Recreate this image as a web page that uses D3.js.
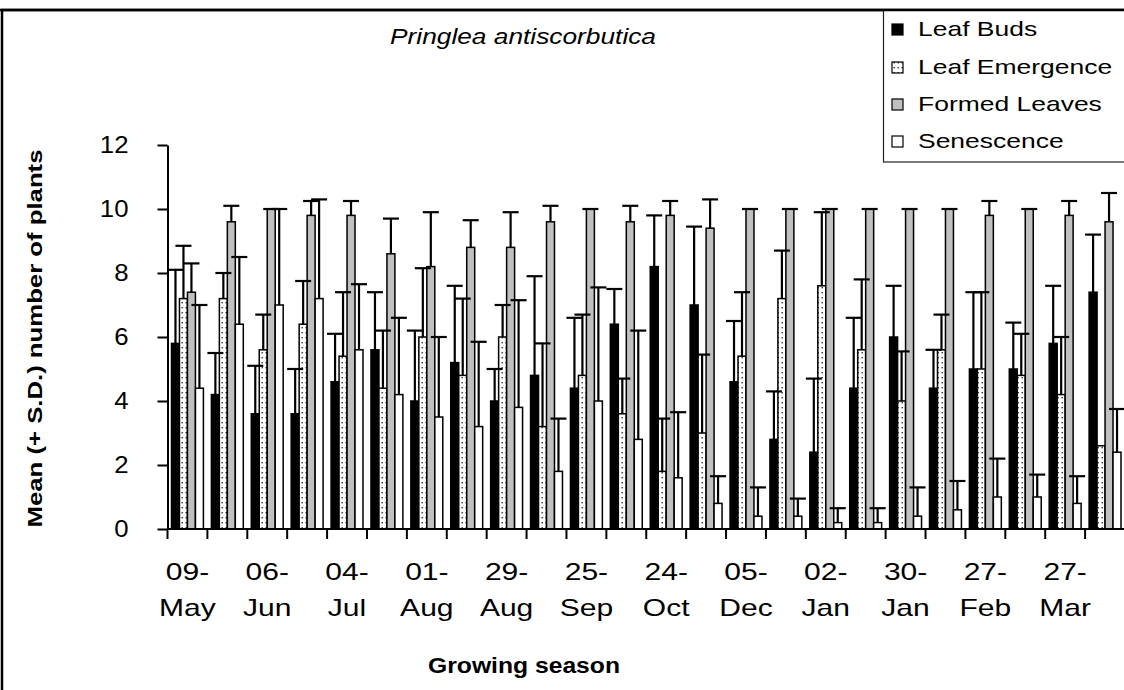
<!DOCTYPE html>
<html><head><meta charset="utf-8">
<script src="https://cdn.jsdelivr.net/npm/d3@7/dist/d3.min.js"></script>
<style>body{margin:0;background:#fff}svg{display:block;font-family:"Liberation Sans",Arial,sans-serif}</style>
</head><body><svg id="c" width="1124" height="690"></svg>
<script>
// ---- data ----
const groups = d3.range(24);           // 24 sampling dates, every other one labelled
const dateLabels = ["09-May","06-Jun","04-Jul","01-Aug","29-Aug","25-Sep","24-Oct","05-Dec","02-Jan","30-Jan","27-Feb","27-Mar"];
const seriesNames = ["Leaf Buds","Leaf Emergence","Formed Leaves","Senescence"];
const yTicks = [0,2,4,6,8,10,12];

const leafBuds      = [5.8,4.2,3.6,3.6,4.6,5.6,4.0,5.2,4.0,4.8,4.4,6.4,8.2,7.0,4.6,2.8,2.4,4.4,6.0,4.4,5.0,5.0,5.8,7.4];
const leafBudsSD    = [2.3,1.3,1.5,1.4,1.5,1.8,2.2,2.4,1.0,3.1,2.2,1.1,1.6,2.45,1.9,1.5,2.3,2.2,1.6,1.2,2.4,1.45,1.8,1.8];
const leafEmerg     = [7.2,7.2,5.6,6.4,5.4,4.4,6.0,4.8,6.0,3.2,4.8,3.6,1.8,3.0,5.4,7.2,7.6,5.6,4.0,5.6,5.0,4.8,4.2,2.6];
const leafEmergSD   = [1.65,0.8,1.1,1.35,2.0,1.8,2.15,2.4,1.0,2.6,1.9,1.1,1.65,2.45,2.0,1.5,2.3,2.2,1.55,1.1,2.4,1.3,1.8,null];
const formedLeaves  = [7.4,9.6,10,9.8,9.8,8.6,8.2,8.8,8.8,9.6,10,9.6,9.8,9.4,10,10,10,10,10,10,9.8,10,9.8,9.6];
const formedSD      = [0.9,0.5,0,0.45,0.45,1.1,1.7,0.85,1.1,0.5,0,0.5,0.45,0.9,0,0,0,0,0,0,0.45,0,0.45,0.9];
const senescence    = [4.4,6.4,7.0,7.2,5.6,4.2,3.5,3.2,3.8,1.8,4.0,2.8,1.6,0.8,0.4,0.4,0.2,0.2,0.4,0.6,1.0,1.0,0.8,2.4];
const senescenceSD  = [2.6,2.1,3.0,3.1,2.05,2.4,2.5,2.65,3.35,1.65,3.55,3.4,2.05,0.85,0.9,0.55,0.45,0.45,0.9,0.9,1.2,0.7,0.85,1.35];

const seriesMeans = [leafBuds, leafEmerg, formedLeaves, senescence];
const seriesSDs   = [leafBudsSD, leafEmergSD, formedSD, senescenceSD];
const fills = ["#000000","url(#dots)","#c0c0c0","#ffffff"];

// ---- chart ----
const svg = d3.select("#c");
const defs = svg.append("defs");
const pat = defs.append("pattern").attr("id","dots").attr("patternUnits","userSpaceOnUse")
  .attr("width",4).attr("height",5);
pat.append("rect").attr("width",4).attr("height",5).attr("fill","#fff");
pat.append("rect").attr("x",1.5).attr("y",2).attr("width",1.4).attr("height",1.4).attr("fill","#333");

function stretch(sel,k){ sel.each(function(){ const L=this.getComputedTextLength(); this.setAttribute("textLength",L*k); this.setAttribute("lengthAdjust","spacingAndGlyphs"); }); }
function fit(sel,w){ sel.attr("textLength",w).attr("lengthAdjust","spacingAndGlyphs"); }

// outer frame
svg.append("rect").attr("x",2).attr("y",10).attr("width",1300).attr("height",900)
  .attr("fill","none").attr("stroke","#000").attr("stroke-width",2.5);

const x0 = d3.scaleBand().domain(groups).range([167.5,1125]).paddingInner(0).paddingOuter(0);
const x1 = d3.scaleBand().domain(seriesNames).range([0,x0.bandwidth()]).paddingInner(0).paddingOuter(0.5);
const y = d3.scaleLinear().domain([0,12]).range([529,145]);
const bw = x1.bandwidth();

// bars
seriesNames.forEach((s,si)=>{
  svg.append("g").selectAll("rect").data(groups).join("rect")
    .attr("x",i=>x0(i)+x1(s)).attr("y",i=>y(seriesMeans[si][i]))
    .attr("width",bw).attr("height",i=>y(0)-y(seriesMeans[si][i]))
    .attr("fill",fills[si]).attr("stroke","#000").attr("stroke-width",1.5);
});
// error bars
seriesNames.forEach((s,si)=>{
  const g = svg.append("g").attr("stroke","#000").attr("stroke-width",2.2);
  groups.forEach(i=>{
    const sd = seriesSDs[si][i];
    if(sd===null) return;
    const m = seriesMeans[si][i];
    const cx = x0(i)+x1(s)+bw/2;
    g.append("line").attr("x1",cx).attr("x2",cx).attr("y1",y(m)).attr("y2",y(m+sd));
    g.append("line").attr("x1",cx-8).attr("x2",cx+8).attr("y1",y(m+sd)).attr("y2",y(m+sd));
  });
});

// y axis
const ya = svg.append("g").attr("transform","translate(167.5,0)")
  .call(d3.axisLeft(y).tickValues(yTicks).tickSize(10).tickPadding(29).tickSizeOuter(0));
ya.select(".domain").attr("stroke-width",2);
ya.selectAll(".tick line").attr("stroke-width",2);
ya.selectAll("text").attr("font-size",23).attr("font-family","Liberation Sans, Arial").attr("fill","#000");
stretch(ya.selectAll("text"),1.12);

// x axis
const xa = svg.append("g");
xa.append("line").attr("x1",x0.range()[0]).attr("x2",x0.range()[1]).attr("y1",y(0)).attr("y2",y(0))
  .attr("stroke","#000").attr("stroke-width",2);
const bounds = groups.map(i=>x0(i)).concat([x0.range()[1]]);
xa.selectAll("line.tk").data(bounds).join("line").attr("class","tk")
  .attr("x1",d=>d).attr("x2",d=>d).attr("y1",y(0)).attr("y2",y(0)+10)
  .attr("stroke","#000").attr("stroke-width",2);
const lab = xa.selectAll("text.xl").data(dateLabels).join("text").attr("class","xl")
  .attr("text-anchor","middle").attr("font-size",24).attr("fill","#000");
lab.each(function(d,k){
  const cx = x0(groups[k*2])+x0.bandwidth()/2;
  const parts = d.split("-");
  const t = d3.select(this);
  t.append("tspan").attr("x",cx).attr("y",580).text(parts[0]+"-");
  t.append("tspan").attr("x",cx).attr("y",616).text(parts[1]);
});
stretch(xa.selectAll("tspan"),1.25);

// titles
const title = svg.append("text").attr("x",523).attr("y",44).attr("text-anchor","middle")
  .attr("font-size",22).attr("font-style","italic").text("Pringlea antiscorbutica");
fit(title,266);
const xt = svg.append("text").attr("x",524).attr("y",673).attr("text-anchor","middle")
  .attr("font-size",22).attr("font-weight","bold").text("Growing season");
fit(xt,192);
const yt = svg.append("text").attr("transform","translate(42,338.5) rotate(-90)").attr("text-anchor","middle")
  .attr("font-size",20).attr("font-weight","bold").text("Mean (+ S.D.) number of plants");
fit(yt,378);

// legend
const lg = svg.append("g");
lg.append("rect").attr("x",883.5).attr("y",10).attr("width",300).attr("height",152)
  .attr("fill","#fff").attr("stroke","#222").attr("stroke-width",1.2);
const baselines = [36,74,111,148];
seriesNames.forEach((s,si)=>{
  lg.append("rect").attr("x",892).attr("y",baselines[si]-12).attr("width",11).attr("height",11)
    .attr("fill",fills[si]).attr("stroke","#000").attr("stroke-width",1.2);
  const t = lg.append("text").attr("x",918).attr("y",baselines[si]).attr("font-size",21).text(s);
  stretch(t,1.26);
});
// redraw top frame line over legend
svg.append("line").attr("x1",0).attr("x2",1124).attr("y1",10).attr("y2",10).attr("stroke","#000").attr("stroke-width",2.5);
</script></body></html>
